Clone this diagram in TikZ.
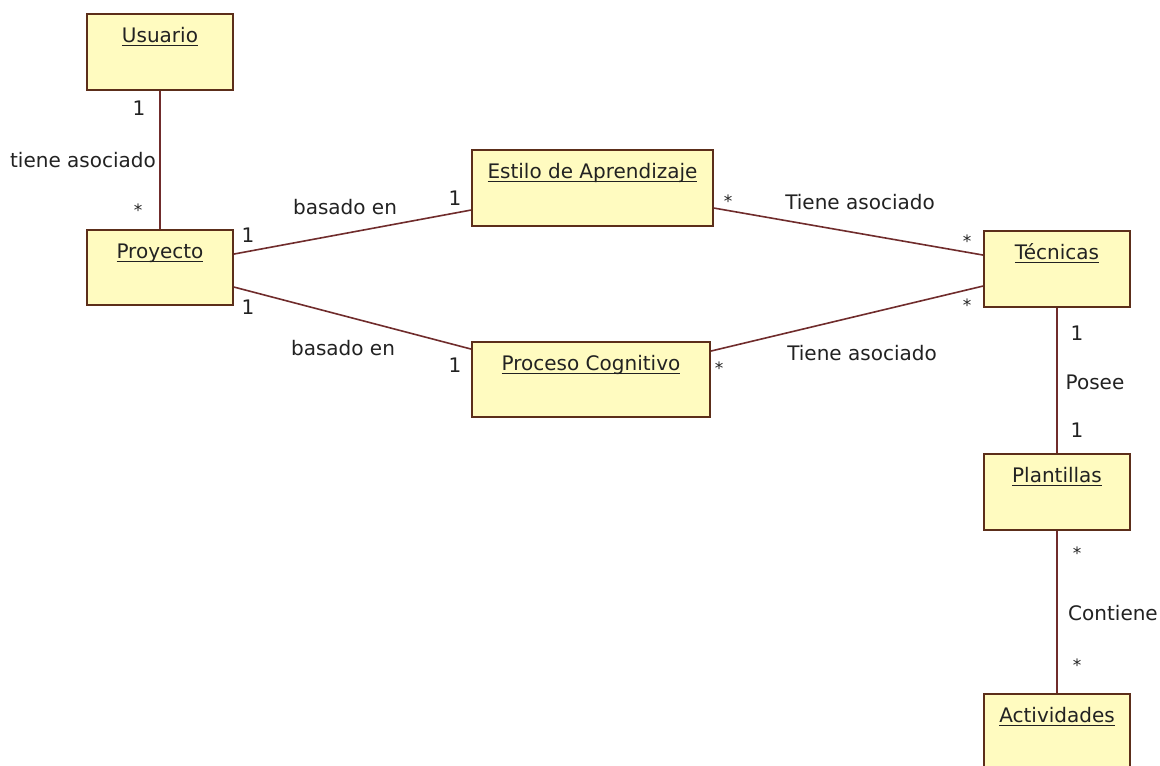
\documentclass[tikz,border=0pt]{standalone}
\usepackage{fontspec}
\setmainfont{DejaVu Sans}
\usetikzlibrary{calc}
\definecolor{clsfill}{RGB}{255,251,192}
\definecolor{clsdraw}{RGB}{92,46,26}
\definecolor{assoc}{RGB}{112,44,44}
\definecolor{txt}{RGB}{34,34,34}
% class name, underlined at a fixed distance below the baseline
\newcommand\clsname[1]{\setbox0\hbox{#1}\rlap{\rule[-4pt]{\wd0}{1.3pt}}\box0}
\begin{document}
\begin{tikzpicture}[x=1pt,y=-1pt,
  cls/.style={draw=clsdraw, fill=clsfill, line width=1.9pt,
    minimum width=146pt, minimum height=76pt, inner sep=0pt},
  title/.style={font=\fontsize{20}{24}\selectfont, text=txt, inner sep=0pt, anchor=base},
  lbl/.style={font=\fontsize{20}{24}\selectfont, text=txt, inner sep=0pt},
  star/.style={font=\fontsize{17}{20}\selectfont, text=txt, inner sep=0pt, yshift=-3pt},
  assocline/.style={draw=assoc, line width=1.6pt}]
\clip (0,0) rectangle (1160,766);
\fill[white] (0,0) rectangle (1160,766);

% classes
\node[cls] (usuario) at (160,52) {};
\node[cls, minimum height=75pt] (proyecto) at (160,267.5) {};
\node[cls, minimum width=241pt] (estilo) at (592.5,188) {};
\node[cls, minimum width=238pt, minimum height=75pt] (proceso) at (591,379.5) {};
\node[cls] (tecnicas) at (1057,269) {};
\node[cls] (plantillas) at (1057,492) {};
\node[cls] (actividades) at (1057,732) {};

% class names
\node[title] (usuario-t) at ($(usuario.north)+(0,29)$) {\clsname{Usuario}};
\node[title] (proyecto-t) at ($(proyecto.north)+(0,29)$) {\clsname{Proyecto}};
\node[title] (estilo-t) at ($(estilo.north)+(0,29)$) {\clsname{Estilo de Aprendizaje}};
\node[title] (proceso-t) at ($(proceso.north)+(0,29)$) {\clsname{Proceso Cognitivo}};
\node[title] (tecnicas-t) at ($(tecnicas.north)+(0,29)$) {\clsname{Técnicas}};
\node[title] (plantillas-t) at ($(plantillas.north)+(0,29)$) {\clsname{Plantillas}};
\node[title] (actividades-t) at ($(actividades.north)+(0,29)$) {\clsname{Actividades}};

% associations
\draw[assocline] (usuario.south) -- (proyecto.north);
\draw[assocline] ($(proyecto.north east)+(0,25)$) -- ($(estilo.north west)+(0,61)$);
\draw[assocline] ($(proyecto.north east)+(0,58)$) -- ($(proceso.north west)+(0,8)$);
\draw[assocline] ($(estilo.north east)+(0,59)$) -- ($(tecnicas.north west)+(0,25)$);
\draw[assocline] ($(proceso.north east)+(0,10)$) -- ($(tecnicas.north west)+(0,56)$);
\draw[assocline] (tecnicas.south) -- (plantillas.north);
\draw[assocline] (plantillas.south) -- (actividades.north);

% association names and multiplicities
\node[lbl] (m-us1) at (139,108) {1};
\node[lbl] (a-us) at (83,160) {tiene asociado};
\node[star] (m-us2) at (138,207) {*};

\node[lbl] (m-pr1) at (248,235) {1};
\node[lbl] (a-es) at (345,207) {basado en};
\node[lbl] (m-es1) at (455,198) {1};

\node[lbl] (m-pr2) at (248,307) {1};
\node[lbl] (a-pc) at (343,348) {basado en};
\node[lbl] (m-pc1) at (455,365) {1};

\node[star] (m-es2) at (728,198) {*};
\node[lbl] (a-te1) at (860,202) {Tiene asociado};
\node[star] (m-te1) at (967,238) {*};

\node[star] (m-pc2) at (719,365) {*};
\node[lbl] (a-te2) at (862,353) {Tiene asociado};
\node[star] (m-te2) at (967,302) {*};

\node[lbl] (m-te3) at (1077,333) {1};
\node[lbl] (a-po) at (1095,382) {Posee};
\node[lbl] (m-pl1) at (1077,430) {1};

\node[star] (m-pl2) at (1077,550) {*};
\node[lbl] (a-co) at (1113,613) {Contiene};
\node[star] (m-ac) at (1077,662) {*};
\end{tikzpicture}
\end{document}
